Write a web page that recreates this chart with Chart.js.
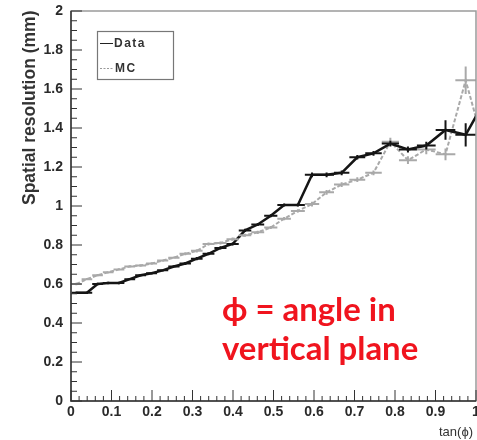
<!DOCTYPE html>
<html><head><meta charset="utf-8">
<script src="https://cdn.jsdelivr.net/npm/chart.js@4"></script>
<style>html,body{margin:0;padding:0;background:#fff;}#wrap{width:477px;height:440px;}</style>
</head><body><div id="wrap"><canvas id="c" width="477" height="440"></canvas></div>
<script>
// ---- data ----
const binEdges = [0, 0.0262, 0.0524, 0.0787, 0.1051, 0.1317, 0.1584, 0.1853, 0.2126, 0.2401,
  0.2679, 0.2962, 0.3249, 0.3541, 0.3839, 0.4142, 0.4452, 0.4770, 0.5095, 0.5430,
  0.5774, 0.6128, 0.6494, 0.6873, 0.7265, 0.7673, 0.8098, 0.8541, 0.9004, 0.9490,
  1.0000, 1.0538];
const dataY = [0.555, 0.555, 0.600, 0.605, 0.605, 0.625, 0.645, 0.655, 0.670, 0.690,
  0.705, 0.730, 0.755, 0.785, 0.805, 0.875, 0.905, 0.950, 1.005, 1.005,
  1.160, 1.160, 1.170, 1.250, 1.270, 1.320, 1.290, 1.310, 1.390, 1.365, 1.560];
const dataYErr = [0.006, 0.006, 0.006, 0.006, 0.006, 0.006, 0.006, 0.006, 0.006, 0.006,
  0.008, 0.008, 0.008, 0.008, 0.008, 0.008, 0.008, 0.008, 0.008, 0.008,
  0.012, 0.012, 0.012, 0.012, 0.012, 0.015, 0.015, 0.020, 0.050, 0.060, 0.080];
const mcY = [0.600, 0.625, 0.645, 0.660, 0.675, 0.690, 0.695, 0.705, 0.720, 0.735,
  0.755, 0.770, 0.805, 0.810, 0.830, 0.850, 0.865, 0.890, 0.935, 0.975,
  1.010, 1.070, 1.110, 1.135, 1.170, 1.330, 1.235, 1.290, 1.265, 1.645, 1.250];
const mcYErr = [0.006, 0.006, 0.006, 0.006, 0.006, 0.006, 0.006, 0.006, 0.006, 0.006,
  0.008, 0.008, 0.008, 0.008, 0.008, 0.008, 0.008, 0.008, 0.008, 0.008,
  0.012, 0.012, 0.012, 0.012, 0.012, 0.020, 0.020, 0.025, 0.030, 0.070, 0.080];
const xTickValues = [0, 0.1, 0.2, 0.3, 0.4, 0.5, 0.6, 0.7, 0.8, 0.9, 1];
const yTickValues = [0, 0.2, 0.4, 0.6, 0.8, 1, 1.2, 1.4, 1.6, 1.8, 2];
const seriesNames = ['Data', 'MC'];
const xTitle = 'tan(ϕ)';
const yTitle = 'Spatial resolution (mm)';
const noteLines = ['ϕ = angle in', 'vertical plane'];

// ---- build ----
const centers = binEdges.slice(0, -1).map((e, i) => (e + binEdges[i + 1]) / 2);
const toPts = ys => ys.map((y, i) => ({x: centers[i], y: y}));
const errSets = [
  {ys: dataY, errs: dataYErr, color: '#151515', w: 2},
  {ys: mcY, errs: mcYErr, color: '#a9a9a9', w: 2}
];

const tickFont = {family: '"Liberation Sans", Arial, sans-serif', size: 14, weight: 'bold'};

const drawPlugin = {
  id: 'rootStyle',
  afterDatasetsDraw(chart) {
    const ctx = chart.ctx, xs = chart.scales.x, ys = chart.scales.y, a = chart.chartArea;
    ctx.save();
    ctx.beginPath(); ctx.rect(a.left, a.top, a.right - a.left, a.bottom - a.top); ctx.clip();
    for (let s = errSets.length - 1; s >= 0; s--) {
      const set = errSets[s];
      ctx.strokeStyle = set.color; ctx.lineWidth = set.w; ctx.setLineDash([]);
      set.ys.forEach((y, i) => {
        const py = ys.getPixelForValue(y);
        const x0 = xs.getPixelForValue(binEdges[i]), x1 = xs.getPixelForValue(binEdges[i + 1]);
        const xc = xs.getPixelForValue(centers[i]);
        ctx.beginPath();
        ctx.moveTo(x0, py); ctx.lineTo(x1, py);
        ctx.moveTo(xc, ys.getPixelForValue(y - set.errs[i]));
        ctx.lineTo(xc, ys.getPixelForValue(y + set.errs[i]));
        ctx.stroke();
      });
    }
    ctx.restore();
  },
  afterDraw(chart) {
    const ctx = chart.ctx, xs = chart.scales.x, ys = chart.scales.y, a = chart.chartArea;
    ctx.save();
    // frame
    ctx.strokeStyle = '#9a9a9a'; ctx.lineWidth = 1.5;
    ctx.strokeRect(a.left, a.top, a.right - a.left, a.bottom - a.top);
    ctx.strokeStyle = '#333'; ctx.lineWidth = 1.5;
    ctx.beginPath();
    ctx.moveTo(a.left, a.top); ctx.lineTo(a.left, a.bottom); ctx.lineTo(a.right, a.bottom);
    ctx.stroke();
    // ticks (inside)
    ctx.lineWidth = 1; ctx.strokeStyle = '#333';
    ctx.beginPath();
    for (let i = 0; i < yTickValues.length; i++) {
      const v = yTickValues[i], p = ys.getPixelForValue(v);
      ctx.moveTo(a.left, p); ctx.lineTo(a.left + 11, p);
      if (i < yTickValues.length - 1) {
        const step = (yTickValues[i + 1] - v) / 4;
        for (let k = 1; k < 4; k++) {
          const q = ys.getPixelForValue(v + k * step);
          ctx.moveTo(a.left, q); ctx.lineTo(a.left + 6, q);
        }
      }
    }
    for (let i = 0; i < xTickValues.length; i++) {
      const v = xTickValues[i], p = xs.getPixelForValue(v);
      ctx.moveTo(p, a.bottom); ctx.lineTo(p, a.bottom - 11);
      if (i < xTickValues.length - 1) {
        const step = (xTickValues[i + 1] - v) / 5;
        for (let k = 1; k < 5; k++) {
          const q = xs.getPixelForValue(v + k * step);
          ctx.moveTo(q, a.bottom); ctx.lineTo(q, a.bottom - 5);
        }
      }
    }
    ctx.stroke();
    // legend
    ctx.fillStyle = '#fff'; ctx.fillRect(97, 31, 76, 48);
    ctx.strokeStyle = '#777'; ctx.lineWidth = 1.2; ctx.strokeRect(97.5, 31.5, 76, 48);
    ctx.lineWidth = 1;
    ctx.strokeStyle = '#222'; ctx.beginPath(); ctx.moveTo(100, 43.5); ctx.lineTo(113, 43.5); ctx.stroke();
    ctx.strokeStyle = '#999'; ctx.setLineDash([2, 1.5]); ctx.beginPath(); ctx.moveTo(100, 68.5); ctx.lineTo(113, 68.5); ctx.stroke();
    ctx.setLineDash([]);
    ctx.fillStyle = '#333'; ctx.font = 'bold 12px "Liberation Sans", Arial, sans-serif';
    ctx.textBaseline = 'middle'; ctx.textAlign = 'left';
    try { ctx.letterSpacing = '1.5px'; } catch (e) {}
    ctx.fillText(seriesNames[0], 114, 44);
    ctx.fillText(seriesNames[1], 115, 69);
    try { ctx.letterSpacing = '0px'; } catch (e) {}
    // axis titles
    ctx.fillStyle = '#333';
    ctx.font = '13px "Liberation Sans", Arial, sans-serif';
    ctx.textAlign = 'right'; ctx.textBaseline = 'middle';
    ctx.fillText(xTitle, 473, 432);
    ctx.save();
    ctx.translate(30, 205); ctx.rotate(-Math.PI / 2);
    ctx.font = 'bold 14px "Liberation Sans", Arial, sans-serif';
    const tw = ctx.measureText(yTitle).width;
    const tfs = 14 * 195 / tw;
    ctx.font = 'bold ' + tfs.toFixed(1) + 'px "Liberation Sans", Arial, sans-serif';
    ctx.textAlign = 'left';
    ctx.fillText(yTitle, 0, 0);
    ctx.restore();
    // red annotation
    ctx.fillStyle = '#f0141e';
    let fs = 25;
    ctx.font = 'bold ' + fs + 'px Lato, "Open Sans", sans-serif';
    const w = ctx.measureText(noteLines[1]).width;
    fs = fs * 196 / w;
    ctx.font = 'bold ' + fs.toFixed(1) + 'px Lato, "Open Sans", sans-serif';
    ctx.textAlign = 'left'; ctx.textBaseline = 'alphabetic';
    ctx.fillText(noteLines[0], 222, 321);
    ctx.fillText(noteLines[1], 222, 360);
    ctx.restore();
  }
};

new Chart(document.getElementById('c'), {
  type: 'line',
  data: {
    datasets: [
      {label: seriesNames[0], data: toPts(dataY), borderColor: '#151515', borderWidth: 2.5,
       pointRadius: 0, tension: 0, fill: false},
      {label: seriesNames[1], data: toPts(mcY), borderColor: '#a9a9a9', borderWidth: 2,
       borderDash: [4, 2], pointRadius: 0, tension: 0, fill: false}
    ]
  },
  options: {
    responsive: false, animation: false, events: [],
    layout: {padding: {left: 0, right: 1, top: 11, bottom: 0}},
    plugins: {legend: {display: false}, tooltip: {enabled: false}},
    scales: {
      x: {
        type: 'linear', min: 0, max: 1,
        grid: {display: false, drawTicks: false}, border: {display: false},
        afterBuildTicks: s => { s.ticks = xTickValues.map(v => ({value: v})); },
        ticks: {font: tickFont, color: '#2a2a2a', padding: 3, maxRotation: 0, autoSkip: false,
                callback: v => String(v)},
        afterFit: s => { s.height = 39; s.paddingLeft = 0; s.paddingRight = 0; }
      },
      y: {
        type: 'linear', min: 0, max: 2,
        grid: {display: false, drawTicks: false}, border: {display: false},
        afterBuildTicks: s => { s.ticks = yTickValues.map(v => ({value: v})); },
        ticks: {font: tickFont, color: '#2a2a2a', padding: 8, autoSkip: false,
                callback: v => String(v)},
        afterFit: s => { s.width = 71; s.paddingTop = 0; s.paddingBottom = 0; }
      }
    }
  },
  plugins: [drawPlugin]
});
</script>
</body></html>
